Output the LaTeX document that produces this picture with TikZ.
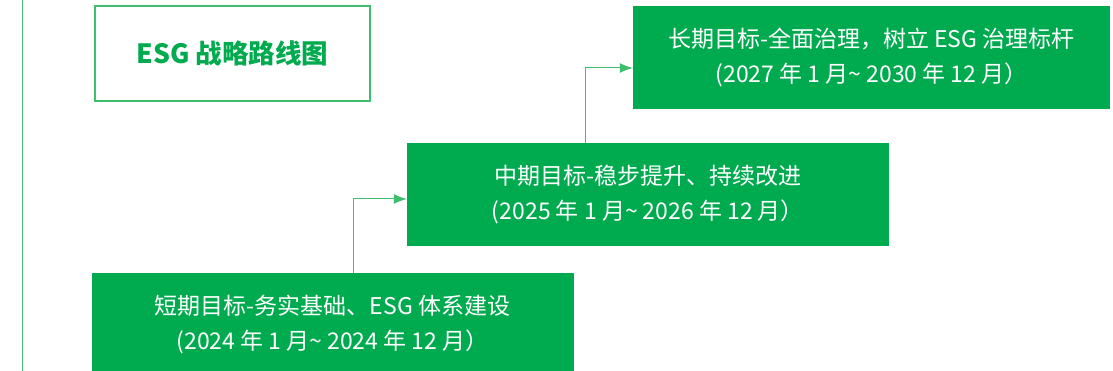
\documentclass[tikz,border=0pt]{standalone}
\usepackage{fontspec}
\setmainfont{Noto Sans CJK SC}
\usetikzlibrary{arrows.meta}
\definecolor{esggreen}{HTML}{00AA4F}
\definecolor{linegreen}{HTML}{3FBF6E}

\begin{document}
\begin{tikzpicture}[x=1pt, y=-1pt]
  \tikzstyle{stage} = [rectangle, minimum width=482pt, minimum height=103pt, text centered, align=center, fill=esggreen, text=white, font=\fontsize{23}{35}\selectfont]
  \tikzstyle{titlebox} = [rectangle, minimum width=275pt, minimum height=95pt, draw=linegreen, line width=1.2pt, fill=white, text=esggreen, font=\fontsize{26.5}{30}\selectfont\bfseries]
  \tikzstyle{arrow} = [draw=linegreen, line width=1pt, -{Latex[length=13pt, width=10pt]}]

  \useasboundingbox (0,0) rectangle (1113,371);
  \draw [linegreen, line width=1.5pt] (22.5,0) -- (22.5,371);

  \node (title) [titlebox] at (232.5,53.5) {ESG 战略路线图};
  \node (short) [stage] at (332.5,324.5) {短期目标-务实基础、ESG 体系建设\\(2024 年 1 月\textasciitilde\ 2024 年 12 月）};
  \node (mid) [stage] at (648,194.5) {中期目标-稳步提升、持续改进\\(2025 年 1 月\textasciitilde\ 2026 年 12 月）};
  \node (long) [stage, minimum width=477pt] at (871.5,57.5) {长期目标-全面治理，树立 ESG 治理标杆\\(2027 年 1 月\textasciitilde\ 2030 年 12 月）};

  \draw [arrow] ([xshift=20.5pt]short.north) |- ([yshift=-4.5pt]mid.west);
  \draw [arrow] ([xshift=-63pt]mid.north) |- ([yshift=-10.5pt]long.west);

\end{tikzpicture}
\end{document}
